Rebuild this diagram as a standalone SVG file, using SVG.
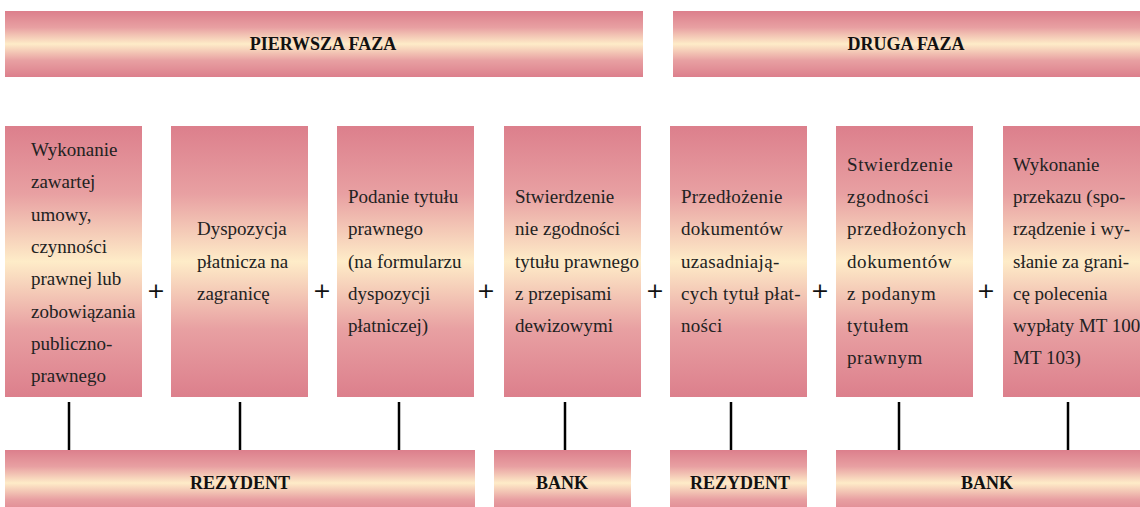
<svg xmlns="http://www.w3.org/2000/svg" width="1140" height="507" viewBox="0 0 1140 507">
<defs>
<linearGradient id="g" x1="0" y1="0" x2="0" y2="1">
<stop offset="0" stop-color="#dc7f8c"/>
<stop offset="0.25" stop-color="#e8a0a2"/>
<stop offset="0.5" stop-color="#feecc8"/>
<stop offset="0.75" stop-color="#e8a0a2"/>
<stop offset="1" stop-color="#dc7f8c"/>
</linearGradient>
</defs>
<style>
.b{fill:url(#g)}
.h{font-weight:bold;font-size:18px;fill:#111;text-anchor:middle}
.t{font-size:19px;fill:#222}
.p{font-size:22px;fill:#111;text-anchor:middle}
.c line{stroke:#000;stroke-width:2.5}
</style>
<rect width="1140" height="507" fill="#fff"/>
<g id="faza1"><rect class="b" x="5" y="11" width="638" height="66"/><text class="h" font-family="Liberation Serif, serif" x="323" y="50">PIERWSZA FAZA</text></g>
<g id="faza2"><rect class="b" x="673" y="11" width="467" height="66"/><text class="h" font-family="Liberation Serif, serif" x="906" y="50">DRUGA FAZA</text></g>

<g id="n1"><rect class="b" x="5" y="126" width="137" height="271"/>
<text class="t" font-family="Liberation Serif, serif"><tspan x="31" y="156">Wykonanie</tspan><tspan x="31" y="188.3">zawartej</tspan><tspan x="31" y="220.6">umowy,</tspan><tspan x="31" y="252.9">czynności</tspan><tspan x="31" y="285.2">prawnej lub</tspan><tspan x="31" y="317.5">zobowiązania</tspan><tspan x="31" y="349.8">publiczno-</tspan><tspan x="31" y="382">prawnego</tspan></text></g>
<g id="n2"><rect class="b" x="171" y="126" width="137" height="271"/>
<text class="t" font-family="Liberation Serif, serif"><tspan x="197" y="235">Dyspozycja</tspan><tspan x="197" y="267.5">płatnicza na</tspan><tspan x="197" y="300">zagranicę</tspan></text></g>
<g id="n3"><rect class="b" x="337" y="126" width="137" height="271"/>
<text class="t" font-family="Liberation Serif, serif"><tspan x="348" y="203">Podanie tytułu</tspan><tspan x="348" y="235">prawnego</tspan><tspan x="348" y="267.5">(na formularzu</tspan><tspan x="348" y="300">dyspozycji</tspan><tspan x="348" y="332">płatniczej)</tspan></text></g>
<g id="n4"><rect class="b" x="504" y="126" width="137" height="271"/>
<text class="t" font-family="Liberation Serif, serif"><tspan x="515" y="203">Stwierdzenie</tspan><tspan x="515" y="235">nie zgodności</tspan><tspan x="515" y="267.5">tytułu prawnego</tspan><tspan x="515" y="300">z przepisami</tspan><tspan x="515" y="332">dewizowymi</tspan></text></g>
<g id="n5"><rect class="b" x="670" y="126" width="137" height="271"/>
<text class="t" font-family="Liberation Serif, serif" letter-spacing="0.3"><tspan x="681" y="203">Przedłożenie</tspan><tspan x="681" y="235">dokumentów</tspan><tspan x="681" y="267.5">uzasadniają-</tspan><tspan x="681" y="300">cych tytuł płat-</tspan><tspan x="681" y="332">ności</tspan></text></g>
<g id="n6"><rect class="b" x="836" y="126" width="137" height="271"/>
<text class="t" font-family="Liberation Serif, serif" letter-spacing="0.6"><tspan x="847" y="171">Stwierdzenie</tspan><tspan x="847" y="203">zgodności</tspan><tspan x="847" y="235">przedłożonych</tspan><tspan x="847" y="267.5">dokumentów</tspan><tspan x="847" y="300">z podanym</tspan><tspan x="847" y="332">tytułem</tspan><tspan x="847" y="364">prawnym</tspan></text></g>
<g id="n7"><rect class="b" x="1003" y="126" width="137" height="271"/>
<text class="t" font-family="Liberation Serif, serif"><tspan x="1013" y="171">Wykonanie</tspan><tspan x="1013" y="203">przekazu (spo-</tspan><tspan x="1013" y="235">rządzenie i wy-</tspan><tspan x="1013" y="267.5">słanie za grani-</tspan><tspan x="1013" y="300">cę polecenia</tspan><tspan x="1013" y="332">wypłaty  MT 100</tspan><tspan x="1013" y="364">MT 103)</tspan></text></g>

<g id="plus" font-family="DejaVu Sans, sans-serif">
<text class="p" x="156" y="298">+</text>
<text class="p" x="322" y="298">+</text>
<text class="p" x="486" y="298">+</text>
<text class="p" x="655" y="298">+</text>
<text class="p" x="820" y="298">+</text>
<text class="p" x="986" y="298">+</text>
</g>

<g id="r1"><rect class="b" x="5" y="450" width="470" height="66"/><text class="h" font-family="Liberation Serif, serif" x="240" y="489" font-size="17">REZYDENT</text></g>
<g id="b1"><rect class="b" x="494" y="450" width="137" height="66"/><text class="h" font-family="Liberation Serif, serif" x="562" y="489" font-size="17">BANK</text></g>
<g id="r2"><rect class="b" x="670" y="450" width="137" height="66"/><text class="h" font-family="Liberation Serif, serif" x="740" y="489" font-size="17">REZYDENT</text></g>
<g id="b2"><rect class="b" x="836" y="450" width="304" height="66"/><text class="h" font-family="Liberation Serif, serif" x="987" y="489" font-size="17">BANK</text></g>

<g id="connectors" class="c">
<line x1="69" y1="402" x2="69" y2="450"/>
<line x1="240" y1="402" x2="240" y2="450"/>
<line x1="399" y1="402" x2="399" y2="450"/>
<line x1="565" y1="402" x2="565" y2="450"/>
<line x1="731" y1="402" x2="731" y2="450"/>
<line x1="899" y1="402" x2="899" y2="450"/>
<line x1="1068" y1="402" x2="1068" y2="450"/>
</g>
</svg>
